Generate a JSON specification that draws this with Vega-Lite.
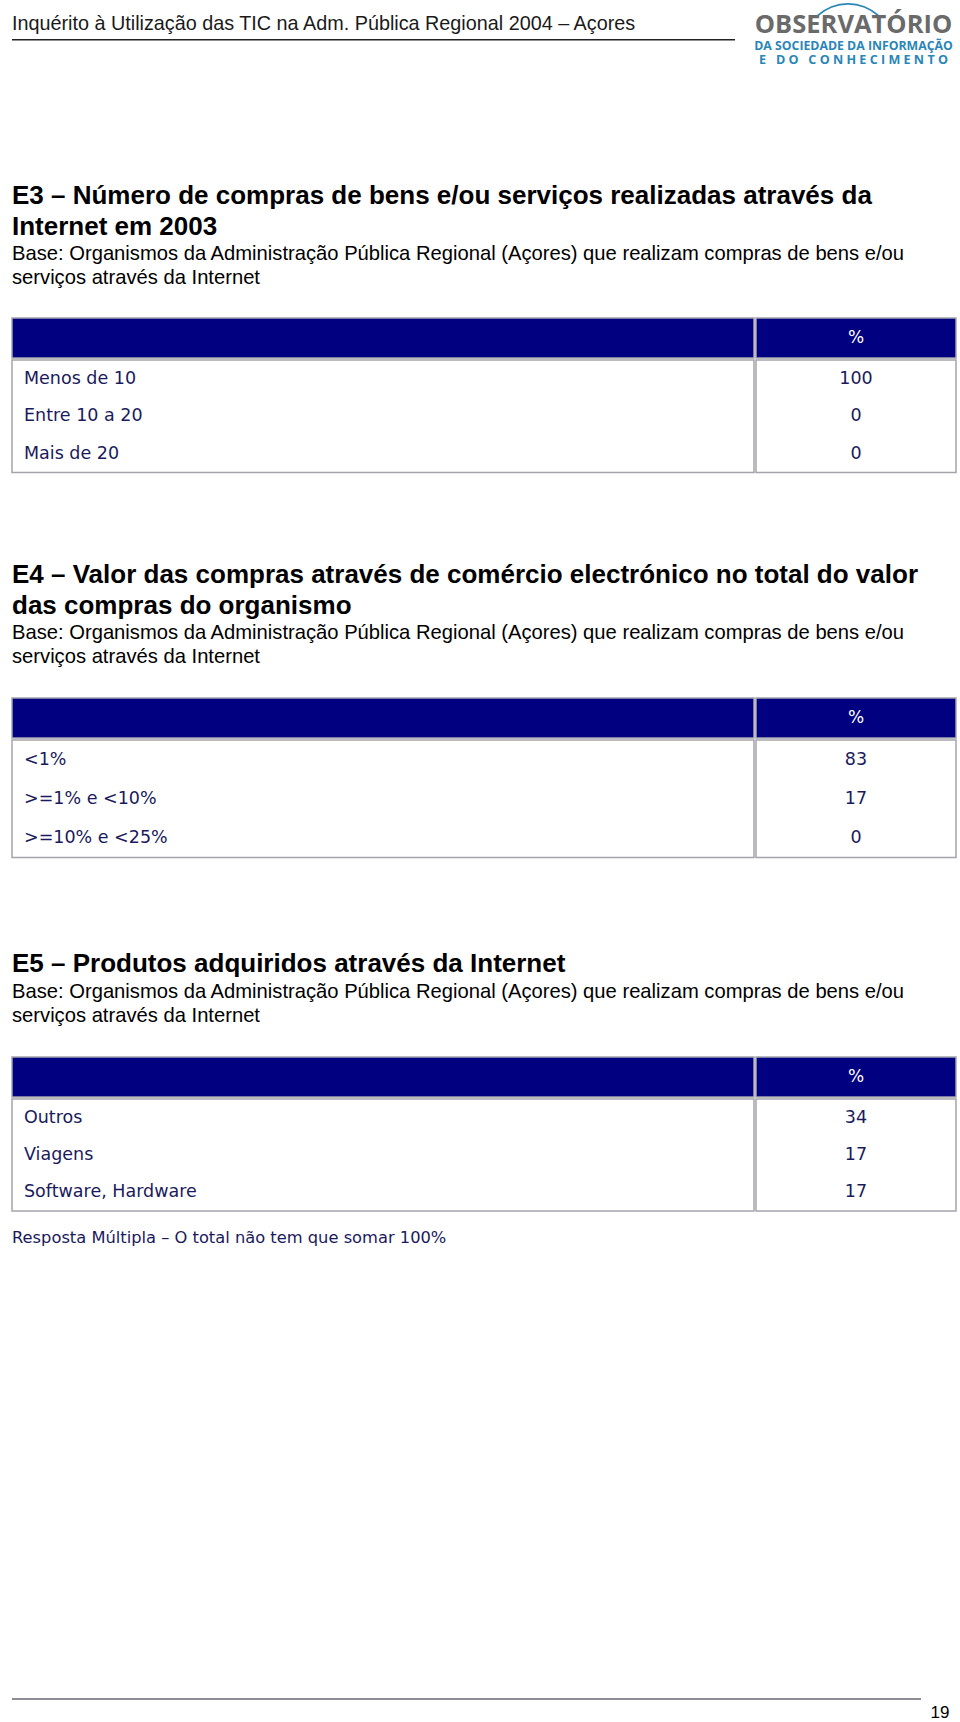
{
  "$schema": "https://vega.github.io/schema/vega-lite/v6.json",
  "background": "white",
  "padding": {"left": 11, "top": 0, "right": 0, "bottom": 0},
  "spacing": 0,
  "config": {"view": {"stroke": null}, "concat": {"spacing": 0}, "text": {"font": "Liberation Sans"}},
  "datasets": {
    "nada": [],
    "vazio": [{}],
    "cabecalho": [{"linha": 1, "texto": "Inquérito à Utilização das TIC na Adm. Pública Regional 2004 – Açores"}],
    "logo": [
      {"parte": 1, "texto": "OBSERVATÓRIO"},
      {"parte": 2, "texto": "DA SOCIEDADE DA INFORMAÇÃO"},
      {"parte": 3, "texto": "E\u00a0\u00a0\u00a0D\u00a0O\u00a0\u00a0\u00a0C\u00a0O\u00a0N\u00a0H\u00a0E\u00a0C\u00a0I\u00a0M\u00a0E\u00a0N\u00a0T\u00a0O"}
    ],
    "e3_titulo": [
      {"linha": 1, "texto": "E3 – Número de compras de bens e/ou serviços realizadas através da"},
      {"linha": 2, "texto": "Internet em 2003"}
    ],
    "e4_titulo": [
      {"linha": 1, "texto": "E4 – Valor das compras através de comércio electrónico no total do valor"},
      {"linha": 2, "texto": "das compras do organismo"}
    ],
    "e5_titulo": [
      {"linha": 1, "texto": "E5 – Produtos adquiridos através da Internet"}
    ],
    "base": [
      {"linha": 1, "texto": "Base: Organismos da Administração Pública Regional (Açores) que realizam compras de bens e/ou"},
      {"linha": 2, "texto": "serviços através da Internet"}
    ],
    "e3": [
      {"categoria": "Menos de 10", "pct": 100},
      {"categoria": "Entre 10 a 20", "pct": 0},
      {"categoria": "Mais de 20", "pct": 0}
    ],
    "e4": [
      {"categoria": "<1%", "pct": 83},
      {"categoria": ">=1% e <10%", "pct": 17},
      {"categoria": ">=10% e <25%", "pct": 0}
    ],
    "e5": [
      {"categoria": "Outros", "pct": 34},
      {"categoria": "Viagens", "pct": 17},
      {"categoria": "Software, Hardware", "pct": 17}
    ],
    "coluna": [{"titulo": "%"}],
    "nota": [{"linha": 1, "texto": "Resposta Múltipla – O total não tem que somar 100%"}],
    "pagina": [{"numero": "19"}]
  },
  "vconcat": [
    {
      "hconcat": [
        {
          "vconcat": [
            {"width": 741, "height": 10, "data": {"name": "nada"}, "mark": "text", "encoding": {"text": {"value": ""}}},
            {"width": 741, "height": 28.5, "data": {"name": "cabecalho"},
             "mark": {"type": "text", "align": "left", "font": "Liberation Sans", "fontSize": 19.8, "color": "#1a1a1a"},
             "encoding": {"x": {"datum": 0, "type": "quantitative", "scale": {"domain": [0, 1]}, "axis": null}, "text": {"field": "texto"}}},
            {"width": 723, "height": 1.5, "view": {"fill": "#222222", "stroke": null}, "data": {"name": "nada"}, "mark": "text", "encoding": {"text": {"value": ""}}}
          ],
          "spacing": 0
        },
        {
          "vconcat": [
            {"width": 201, "height": 37,
             "layer": [
               {"data": {"name": "vazio"}, "mark": {"type": "arc", "radius": 46, "radius2": 44.3, "theta": -0.75, "theta2": 0.75, "color": "#2a86b8", "xOffset": -5.5, "yOffset": 30.5}, "encoding": {}},
               {"data": {"name": "logo"}, "transform": [{"filter": "datum.parte == 1"}],
                "mark": {"type": "text", "font": "Open Sans", "fontWeight": "bold", "fontSize": 25.5, "color": "#6a6a6a", "dy": 6.5},
                "encoding": {"text": {"field": "texto"}}}
             ]},
            {"width": 201, "height": 14, "data": {"name": "logo"}, "transform": [{"filter": "datum.parte == 2"}],
             "mark": {"type": "text", "font": "Open Sans", "fontWeight": "bold", "fontSize": 12.3, "color": "#2a86b8"},
             "encoding": {"text": {"field": "texto"}}},
            {"width": 201, "height": 14, "data": {"name": "logo"}, "transform": [{"filter": "datum.parte == 3"}],
             "mark": {"type": "text", "font": "Open Sans", "fontWeight": "bold", "fontSize": 12.6, "color": "#2a86b8"},
             "encoding": {"text": {"field": "texto"}}}
          ],
          "spacing": 0
        }
      ],
      "spacing": 0
    },
    {"width": 942, "height": 114, "data": {"name": "nada"}, "mark": "text", "encoding": {"text": {"value": ""}}},
    {"width": 942, "height": 61, "data": {"name": "e3_titulo"},
     "mark": {"type": "text", "align": "left", "font": "Liberation Sans", "fontWeight": "bold", "fontSize": 26, "color": "#000000"},
     "encoding": {"x": {"datum": 0, "type": "quantitative", "scale": {"domain": [0, 1]}, "axis": null}, "y": {"field": "linha", "type": "ordinal", "axis": null, "scale": {"paddingInner": 0, "paddingOuter": 0}}, "text": {"field": "texto"}}},
    {"width": 942, "height": 48, "data": {"name": "base"},
     "mark": {"type": "text", "align": "left", "font": "Liberation Sans", "fontSize": 20.2, "color": "#000000"},
     "encoding": {"x": {"datum": 0, "type": "quantitative", "scale": {"domain": [0, 1]}, "axis": null}, "y": {"field": "linha", "type": "ordinal", "axis": null, "scale": {"paddingInner": 0, "paddingOuter": 0}}, "text": {"field": "texto"}}},
    {"width": 942, "height": 27, "data": {"name": "nada"}, "mark": "text", "encoding": {"text": {"value": ""}}},
    {
      "vconcat": [
        {"hconcat": [
          {"width": 742, "height": 40, "view": {"fill": "#000080", "stroke": "#a4a4ac", "strokeWidth": 1.5}, "data": {"name": "nada"}, "mark": "text", "encoding": {"text": {"value": ""}}},
          {"width": 200, "height": 40, "view": {"fill": "#000080", "stroke": "#a4a4ac", "strokeWidth": 1.5}, "data": {"name": "coluna"},
           "mark": {"type": "text", "font": "DejaVu Sans", "fontSize": 17, "color": "#ffffff"}, "encoding": {"text": {"field": "titulo"}}}
        ], "spacing": 0},
        {"hconcat": [
          {"width": 742, "height": 112.5, "view": {"stroke": "#a4a4ac", "strokeWidth": 1.5}, "data": {"name": "e3"},
           "mark": {"type": "text", "align": "left", "dx": 12, "font": "DejaVu Sans", "fontSize": 17.5, "color": "#1a1a5c"},
           "encoding": {"x": {"datum": 0, "type": "quantitative", "scale": {"domain": [0, 1]}, "axis": null}, "y": {"field": "categoria", "type": "nominal", "sort": null, "axis": null, "scale": {"paddingInner": 0, "paddingOuter": 0.114}}, "text": {"field": "categoria"}}},
          {"width": 200, "height": 112.5, "view": {"stroke": "#a4a4ac", "strokeWidth": 1.5}, "data": {"name": "e3"},
           "mark": {"type": "text", "font": "DejaVu Sans", "fontSize": 17.5, "color": "#1a1a5c"},
           "encoding": {"y": {"field": "categoria", "type": "nominal", "sort": null, "axis": null, "scale": {"paddingInner": 0, "paddingOuter": 0.114}}, "text": {"field": "pct", "type": "quantitative"}}}
        ], "spacing": 0}
      ],
      "spacing": 0
    },
    {"width": 942, "height": 85.1, "data": {"name": "nada"}, "mark": "text", "encoding": {"text": {"value": ""}}},
    {"width": 942, "height": 61, "data": {"name": "e4_titulo"},
     "mark": {"type": "text", "align": "left", "font": "Liberation Sans", "fontWeight": "bold", "fontSize": 26, "color": "#000000"},
     "encoding": {"x": {"datum": 0, "type": "quantitative", "scale": {"domain": [0, 1]}, "axis": null}, "y": {"field": "linha", "type": "ordinal", "axis": null, "scale": {"paddingInner": 0, "paddingOuter": 0}}, "text": {"field": "texto"}}},
    {"width": 942, "height": 48, "data": {"name": "base"},
     "mark": {"type": "text", "align": "left", "font": "Liberation Sans", "fontSize": 20.2, "color": "#000000"},
     "encoding": {"x": {"datum": 0, "type": "quantitative", "scale": {"domain": [0, 1]}, "axis": null}, "y": {"field": "linha", "type": "ordinal", "axis": null, "scale": {"paddingInner": 0, "paddingOuter": 0}}, "text": {"field": "texto"}}},
    {"width": 942, "height": 28, "data": {"name": "nada"}, "mark": "text", "encoding": {"text": {"value": ""}}},
    {
      "vconcat": [
        {"hconcat": [
          {"width": 742, "height": 40, "view": {"fill": "#000080", "stroke": "#a4a4ac", "strokeWidth": 1.5}, "data": {"name": "nada"}, "mark": "text", "encoding": {"text": {"value": ""}}},
          {"width": 200, "height": 40, "view": {"fill": "#000080", "stroke": "#a4a4ac", "strokeWidth": 1.5}, "data": {"name": "coluna"},
           "mark": {"type": "text", "font": "DejaVu Sans", "fontSize": 17, "color": "#ffffff"}, "encoding": {"text": {"field": "titulo"}}}
        ], "spacing": 0},
        {"hconcat": [
          {"width": 742, "height": 117.5, "view": {"stroke": "#a4a4ac", "strokeWidth": 1.5}, "data": {"name": "e4"},
           "mark": {"type": "text", "align": "left", "dx": 12, "font": "DejaVu Sans", "fontSize": 17.5, "color": "#1a1a5c"},
           "encoding": {"x": {"datum": 0, "type": "quantitative", "scale": {"domain": [0, 1]}, "axis": null}, "y": {"field": "categoria", "type": "nominal", "sort": null, "axis": null, "scale": {"paddingInner": 0, "paddingOuter": 0.145}}, "text": {"field": "categoria"}}},
          {"width": 200, "height": 117.5, "view": {"stroke": "#a4a4ac", "strokeWidth": 1.5}, "data": {"name": "e4"},
           "mark": {"type": "text", "font": "DejaVu Sans", "fontSize": 17.5, "color": "#1a1a5c"},
           "encoding": {"y": {"field": "categoria", "type": "nominal", "sort": null, "axis": null, "scale": {"paddingInner": 0, "paddingOuter": 0.145}}, "text": {"field": "pct", "type": "quantitative"}}}
        ], "spacing": 0}
      ],
      "spacing": 0
    },
    {"width": 942, "height": 89.75, "data": {"name": "nada"}, "mark": "text", "encoding": {"text": {"value": ""}}},
    {"width": 942, "height": 30.5, "data": {"name": "e5_titulo"},
     "mark": {"type": "text", "align": "left", "font": "Liberation Sans", "fontWeight": "bold", "fontSize": 26, "color": "#000000"},
     "encoding": {"x": {"datum": 0, "type": "quantitative", "scale": {"domain": [0, 1]}, "axis": null}, "y": {"field": "linha", "type": "ordinal", "axis": null, "scale": {"paddingInner": 0, "paddingOuter": 0}}, "text": {"field": "texto"}}},
    {"width": 942, "height": 48, "data": {"name": "base"},
     "mark": {"type": "text", "align": "left", "font": "Liberation Sans", "fontSize": 20.2, "color": "#000000"},
     "encoding": {"x": {"datum": 0, "type": "quantitative", "scale": {"domain": [0, 1]}, "axis": null}, "y": {"field": "linha", "type": "ordinal", "axis": null, "scale": {"paddingInner": 0, "paddingOuter": 0}}, "text": {"field": "texto"}}},
    {"width": 942, "height": 27.5, "data": {"name": "nada"}, "mark": "text", "encoding": {"text": {"value": ""}}},
    {
      "vconcat": [
        {"hconcat": [
          {"width": 742, "height": 40, "view": {"fill": "#000080", "stroke": "#a4a4ac", "strokeWidth": 1.5}, "data": {"name": "nada"}, "mark": "text", "encoding": {"text": {"value": ""}}},
          {"width": 200, "height": 40, "view": {"fill": "#000080", "stroke": "#a4a4ac", "strokeWidth": 1.5}, "data": {"name": "coluna"},
           "mark": {"type": "text", "font": "DejaVu Sans", "fontSize": 17, "color": "#ffffff"}, "encoding": {"text": {"field": "titulo"}}}
        ], "spacing": 0},
        {"hconcat": [
          {"width": 742, "height": 112, "view": {"stroke": "#a4a4ac", "strokeWidth": 1.5}, "data": {"name": "e5"},
           "mark": {"type": "text", "align": "left", "dx": 12, "font": "DejaVu Sans", "fontSize": 17.5, "color": "#1a1a5c"},
           "encoding": {"x": {"datum": 0, "type": "quantitative", "scale": {"domain": [0, 1]}, "axis": null}, "y": {"field": "categoria", "type": "nominal", "sort": null, "axis": null, "scale": {"paddingInner": 0, "paddingOuter": 0.114}}, "text": {"field": "categoria"}}},
          {"width": 200, "height": 112, "view": {"stroke": "#a4a4ac", "strokeWidth": 1.5}, "data": {"name": "e5"},
           "mark": {"type": "text", "font": "DejaVu Sans", "fontSize": 17.5, "color": "#1a1a5c"},
           "encoding": {"y": {"field": "categoria", "type": "nominal", "sort": null, "axis": null, "scale": {"paddingInner": 0, "paddingOuter": 0.114}}, "text": {"field": "pct", "type": "quantitative"}}}
        ], "spacing": 0}
      ],
      "spacing": 0
    },
    {"width": 942, "height": 14, "data": {"name": "nada"}, "mark": "text", "encoding": {"text": {"value": ""}}},
    {"width": 942, "height": 24, "data": {"name": "nota"},
     "mark": {"type": "text", "align": "left", "font": "DejaVu Sans", "fontSize": 16.3, "color": "#1a1a5c"},
     "encoding": {"x": {"datum": 0, "type": "quantitative", "scale": {"domain": [0, 1]}, "axis": null}, "text": {"field": "texto"}}},
    {"width": 942, "height": 447.25, "data": {"name": "nada"}, "mark": "text", "encoding": {"text": {"value": ""}}},
    {
      "hconcat": [
        {"width": 909, "height": 2, "view": {"fill": "#8c8c98", "stroke": null}, "data": {"name": "nada"}, "mark": "text", "encoding": {"text": {"value": ""}}},
        {"width": 38, "height": 24, "data": {"name": "pagina"},
         "mark": {"type": "text", "font": "Liberation Sans", "fontSize": 17, "color": "#000000", "dy": 3},
         "encoding": {"text": {"field": "numero"}}}
      ],
      "spacing": 0
    }
  ]
}
